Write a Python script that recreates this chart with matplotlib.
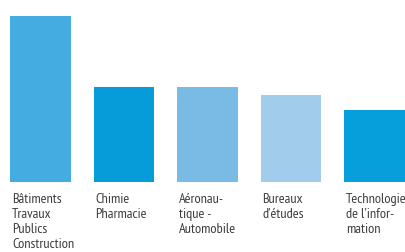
import matplotlib.pyplot as plt

categories = ["Bâtiments\nTravaux\nPublics\nConstruction", "Chimie\nPharmacie",
              "Aéronau-\ntique -\nAutomobile", "Bureaux\nd\u2019études",
              "Technologie\nde l\u2019infor-\nmation"]
values = [166, 95, 95, 87, 72]
colors = ["#45ace2", "#069cd9", "#7abbe6", "#a1ccec", "#069fdc"]

plt.rcParams["font.family"] = ["PT Sans Narrow", "DejaVu Sans"]

fig = plt.figure(figsize=(4.05, 2.53), dpi=100)
ax = fig.add_axes([10 / 405, 70 / 253, 395 / 405, 183 / 253])
w = 0.73
x = range(len(values))
ax.bar(x, values, width=w, color=colors)
ax.set_xlim(-w / 2, len(values) - 1 + w / 2)
ax.set_ylim(0, 183)
ax.axis("off")

for i, lab in enumerate(categories):
    ax.annotate(lab, xy=(i - w / 2, 0), xycoords="data",
                xytext=(1.5, -7), textcoords="offset points",
                ha="left", va="top", fontsize=10.3,
                color="#3c3c3c", linespacing=1.22, annotation_clip=False)

fig.savefig("out.png", dpi=100)
